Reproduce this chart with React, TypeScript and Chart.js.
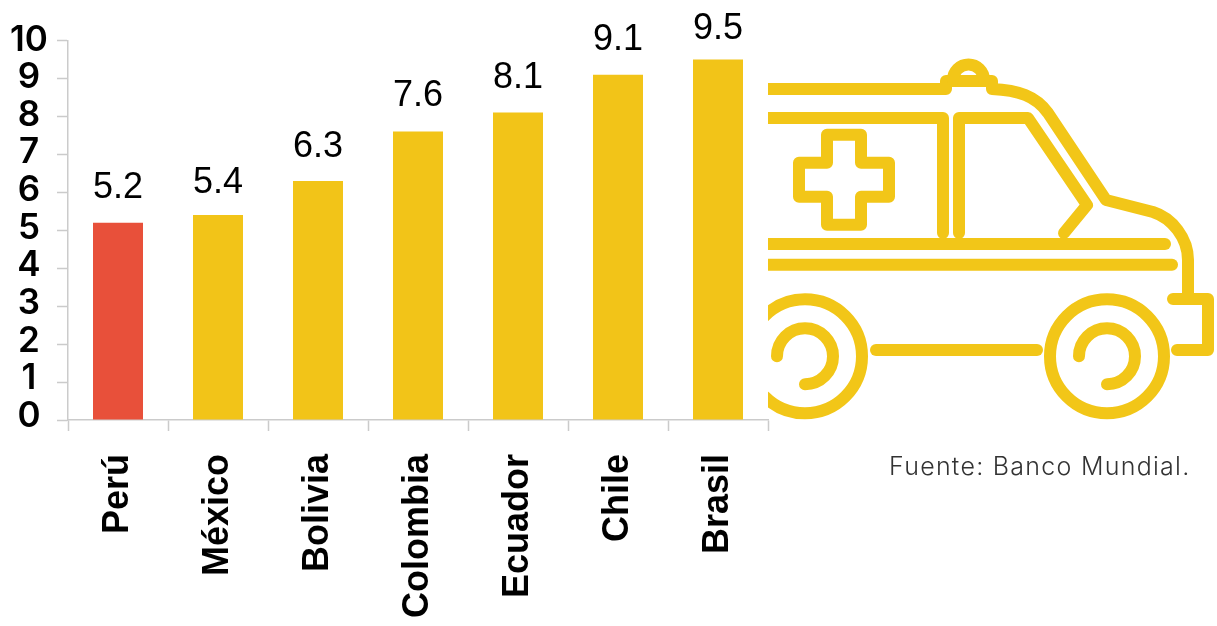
import React, { useEffect, useRef } from "react";
import { Chart, registerables } from "chart.js";

Chart.register(...registerables);

const countries = ["Perú", "México", "Bolivia", "Colombia", "Ecuador", "Chile", "Brasil"];
const values = [5.2, 5.4, 6.3, 7.6, 8.1, 9.1, 9.5];
const barColors = ["#E8503A", "#F2C418", "#F2C418", "#F2C418", "#F2C418", "#F2C418", "#F2C418"];
const valueTicks = [0, 1, 2, 3, 4, 5, 6, 7, 8, 9, 10];
const sourceNote = "Fuente: Banco Mundial.";

// Distance from each bar's top to the baseline of its caption.
const captionGaps = [25, 22, 24, 26, 25, 25, 20];

const AXIS = "#CBCBCB";
const ICON = "#F2C618";

// Value captions above each bar.
const barValues = {
  id: "barValues",
  afterDatasetsDraw(chart: any) {
    const { ctx } = chart;
    const bars = chart.getDatasetMeta(0).data;
    ctx.save();
    ctx.font = '36px "Liberation Sans"';
    ctx.fillStyle = "#000";
    ctx.textAlign = "center";
    ctx.textBaseline = "alphabetic";
    bars.forEach((bar: any, i: number) => {
      ctx.fillText(values[i].toFixed(1), bar.x, bar.y - captionGaps[i]);
    });
    ctx.restore();
  },
};

// Centred value-axis numerals, packed slightly tighter than the tick marks.
const axisNumerals = {
  id: "axisNumerals",
  afterDraw(chart: any) {
    const { ctx } = chart;
    const y = chart.scales.y;
    ctx.save();
    ctx.font = '600 35px "Inter"';
    ctx.fillStyle = "#000";
    ctx.textAlign = "center";
    ctx.textBaseline = "middle";
    valueTicks.forEach((v) => {
      ctx.fillText(String(v), 29, y.getPixelForValue(v) - 3.5 + 0.3 * v);
    });
    ctx.restore();
  },
};

function Ambulance() {
  const common = {
    fill: "none",
    stroke: ICON,
    strokeWidth: 12,
    strokeLinecap: "round" as const,
    strokeLinejoin: "round" as const,
  };
  return (
    <svg
      width={449}
      height={626}
      viewBox="768 0 449 626"
      style={{ position: "absolute", left: 768, top: 0, overflow: "hidden" }}
    >
      <g {...common}>
        {/* roof, beacon and hood */}
        <path d="M760 89 H946 V81 H992 V89 C1018 90 1036 96 1048 113 L1106 200 L1153 212 C1172 218 1188 238 1188 260 V299" />
        <path d="M953 80 A15.5 15.5 0 0 1 984 80" />
        {/* bumper */}
        <path d="M1173 299 H1208 V350 H1177" />
        {/* door and window */}
        <path d="M760 118 H943 V233" />
        <path d="M959 233 V118 H1028 L1087 205 L1064 233" />
        {/* body lines */}
        <path d="M760 244 H1165" />
        <path d="M760 264.7 H1172" />
        {/* cross */}
        <path d="M827 134.7 H861 V162.7 H889 V196.7 H861 V224.7 H827 V196.7 H799 V162.7 H827 Z" />
        {/* wheels */}
        <circle cx={805} cy={356.3} r={57} />
        <path d="M777 356.3 A28 28 0 1 1 805 384.3" />
        <circle cx={1107} cy={356.3} r={57} />
        <path d="M1079 356.3 A28 28 0 1 1 1107 384.3" />
        <path d="M876 350 H1037" />
      </g>
    </svg>
  );
}

export default function App() {
  const ref = useRef<HTMLCanvasElement>(null);

  useEffect(() => {
    if (!ref.current) return;
    const chart = new Chart(ref.current, {
      type: "bar",
      data: {
        labels: countries,
        datasets: [
          {
            data: values,
            backgroundColor: barColors,
            borderWidth: 0,
            barPercentage: 0.5,
            categoryPercentage: 1,
          },
        ],
      },
      options: {
        responsive: false,
        animation: false,
        layout: { padding: { top: 40.5, right: 449, left: 0, bottom: 0 } },
        plugins: { legend: { display: false }, tooltip: { enabled: false } },
        scales: {
          x: {
            afterFit(scale: any) {
              scale.height = 206;
            },
            border: { color: AXIS, width: 1.5 },
            grid: { drawOnChartArea: false, color: AXIS, tickLength: 11, tickWidth: 1.5 },
            ticks: {
              autoSkip: false,
              minRotation: 90,
              maxRotation: 90,
              padding: 23,
              color: "#000",
              font: { family: "Liberation Sans", size: 36, weight: "700" },
            },
          },
          y: {
            min: 0,
            max: 10,
            afterFit(scale: any) {
              scale.width = 68;
            },
            border: { color: AXIS, width: 1.5 },
            grid: { drawOnChartArea: false, color: AXIS, tickLength: 11, tickWidth: 1.5 },
            ticks: { display: false, stepSize: 1 },
          },
        },
      },
      plugins: [barValues, axisNumerals],
    } as any);
    return () => chart.destroy();
  }, []);

  return (
    <div style={{ position: "absolute", left: 0, top: 0, width: 1217, height: 626, overflow: "hidden", background: "#fff" }}>
      <canvas ref={ref} width={1217} height={626} style={{ display: "block" }} />
      <Ambulance />
      <div
        style={{
          position: "absolute",
          left: 889,
          top: 451,
          font: '300 25px "Inter"',
          letterSpacing: "1.27px",
          color: "#333",
          whiteSpace: "nowrap",
        }}
      >
        {sourceNote}
      </div>
    </div>
  );
}
